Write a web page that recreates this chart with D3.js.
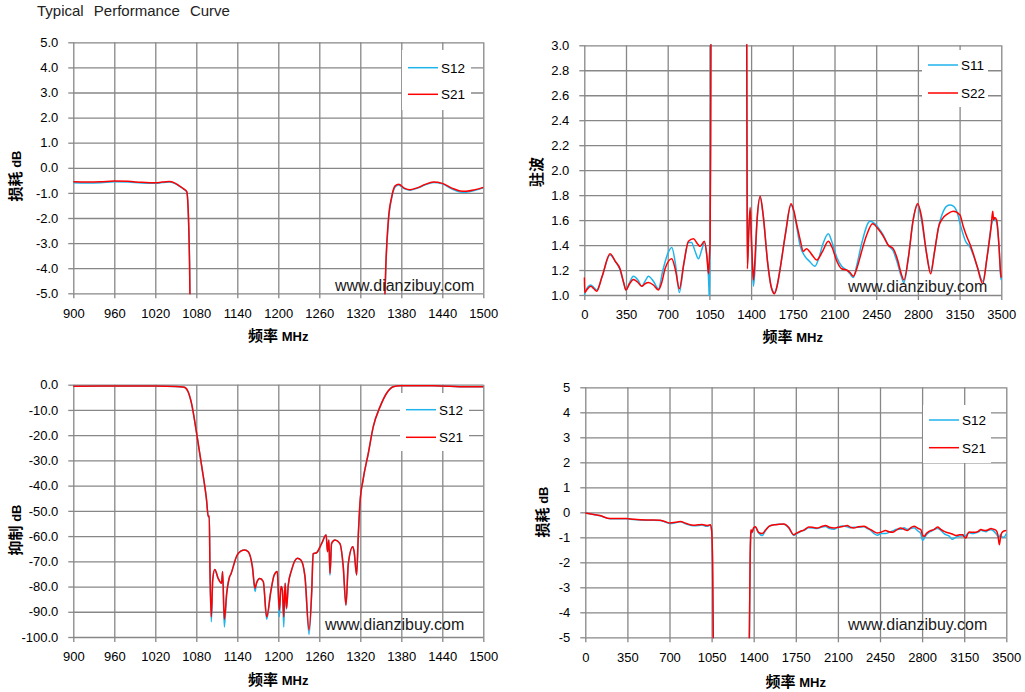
<!DOCTYPE html>
<html><head><meta charset="utf-8">
<script src="https://cdn.jsdelivr.net/npm/d3@7"></script>
<style>
body{margin:0;background:#fff;}
svg{display:block;font-family:"Liberation Sans",Arial,sans-serif;}
</style></head><body>
<svg id="c" width="1025" height="692"></svg>
<script>
// ---------- DATA ----------
// Chart 1: insertion loss, 900-1500 MHz
const c1Freq = [900,920,940,960,980,1000,1020,1030,1040,1048,1055,1062,1066,1068,1070,1072,1075,
  1200,
  1350,1354,1357,1361,1366,1371,1376,1385,1393,1405,1415,1427,1440,1455,1466,1475,1488,1500];
const c1S21 = [-0.56,-0.57,-0.56,-0.53,-0.54,-0.58,-0.6,-0.57,-0.55,-0.6,-0.72,-0.85,-0.95,-1.6,-3.6,-8,-25,
  null,
  -25,-8,-4.2,-2.1,-1.15,-0.72,-0.66,-0.82,-0.87,-0.78,-0.66,-0.57,-0.62,-0.82,-0.92,-0.93,-0.87,-0.78];
const c1S12 = [-0.6,-0.61,-0.6,-0.56,-0.57,-0.61,-0.62,-0.59,-0.57,-0.62,-0.73,-0.86,-0.96,-1.6,-3.6,-8,-25,
  null,
  -25,-8,-4.3,-2.2,-1.2,-0.76,-0.69,-0.84,-0.89,-0.8,-0.68,-0.59,-0.64,-0.86,-0.96,-0.97,-0.9,-0.8];

// Chart 2: VSWR, 0-3500 MHz
const c2FreqS22 = [0,4,20,54,80,104,150,216,260,300, 330,350,380,412,450,482,510,538,580,622,
  650,678,734,765,798,835,874,916,950,972, 1008,1030,1042,1050,1056,1060,1064,1200,1362,1366,
  1369,1380,1392,1405,1420,1430,1450,1476,1500,1540, 1570,1596,1620,1642,1690,1735,1760,1782,1810,1838,
  1865,1889,1920,1950,2000,2048,2080,2120,2160,2202, 2230,2258,2290,2328,2370,2420,2465,2510,2550,2594,
  2630,2660,2683,2720,2760,2798,2830,2870,2907,2940, 2975,3005,3050,3097,3153,3180,3209,3240,3265,3300,
  3344,3380,3415,3428,3435,3445,3461,3480,3495,3500];
const c2S22 = [1.14,1.02,1.04,1.07,1.05,1.03,1.15,1.33,1.27,1.21, 1.1,1.04,1.09,1.125,1.1,1.07,1.09,1.1,1.08,1.04,
  1.1,1.21,1.29,1.2,1.05,1.25,1.43,1.45,1.41,1.39, 1.43,1.3,1.17,1.3,1.43,2.2,3.5,null,3.5,2.0,
  1.21,1.5,1.7,1.4,1.12,1.25,1.6,1.79,1.65,1.25, 1.06,1.01,1.08,1.2,1.5,1.73,1.67,1.57,1.45,1.35,
  1.37,1.35,1.31,1.28,1.35,1.43,1.38,1.27,1.21,1.2, 1.18,1.15,1.22,1.35,1.48,1.57,1.53,1.47,1.4,1.37,
  1.28,1.17,1.12,1.3,1.6,1.73,1.63,1.35,1.17,1.35, 1.55,1.61,1.65,1.67,1.64,1.55,1.47,1.4,1.33,1.22,
  1.09,1.3,1.55,1.67,1.6,1.62,1.6,1.4,1.17,1.14];
const c2FreqS11 = [0,10,54,80,104,150,216,260,300,330, 350,380,412,450,482,510,538,580,622,660,
  700,734,765,798,835,874,900,930,958,985, 1008,1030,1042,1048,1050,1054,1060,1064,1200,1362,
  1366,1369,1380,1392,1405,1420,1432,1450,1476,1500, 1540,1570,1596,1620,1642,1690,1735,1760,1782,1810,
  1852,1890,1936,1970,2000,2048,2080,2120,2160,2202, 2230,2258,2290,2330,2398,2440,2475,2510,2550,2594,
  2630,2660,2683,2720,2760,2798,2830,2870,2907,2940, 2975,3005,3040,3069,3100,3130,3160,3200,3240,3265,
  3300,3344,3380,3415,3428,3440,3461,3480,3495,3500];
const c2S11 = [1.0,1.03,1.08,1.06,1.04,1.15,1.32,1.27,1.2,1.1, 1.04,1.1,1.15,1.12,1.07,1.11,1.15,1.11,1.05,1.2,
  1.33,1.38,1.25,1.02,1.25,1.42,1.42,1.35,1.29,1.36, 1.42,1.3,1.15,1.0,0.95,1.25,2.2,3.5,null,3.5,
  2.0,1.25,1.5,1.65,1.35,1.07,1.2,1.6,1.78,1.65, 1.25,1.06,1.02,1.08,1.2,1.5,1.72,1.66,1.55,1.4,
  1.31,1.27,1.23,1.3,1.4,1.49,1.42,1.3,1.23,1.2, 1.17,1.14,1.25,1.42,1.59,1.57,1.53,1.48,1.4,1.35,
  1.25,1.15,1.1,1.3,1.6,1.72,1.6,1.35,1.19,1.35, 1.55,1.65,1.71,1.72,1.71,1.66,1.55,1.43,1.38,1.32,
  1.22,1.11,1.3,1.55,1.6,1.61,1.58,1.4,1.15,1.12];

// Chart 3: rejection, 900-1500 MHz
const c3Freq = [900,960,1020,1050,1060,1064,1068,1073,1080.5,1088, 1095,1097.5,1099,1100,1102,1104,1107,1112,1117,1118.5,
  1121,1124.5,1128,1131,1139,1145,1151,1156,1162,1166, 1168,1173,1178,1183,1189,1194,1198.5,1201.5,1204,1206,
  1208,1210,1212,1214.6,1219.5,1228,1233,1239,1245,1249, 1251,1256,1263.5,1270,1272,1274,1275.6,1278,1283,1290,
  1295,1299,1302.5,1309,1311,1314.6,1317,1319.5,1324,1331.7, 1339,1349,1358.5,1368,1378,1427,1475,1500];
const c3S21 = [-0.6,-0.5,-0.55,-0.7,-0.9,-1.2,-2.8,-7.4,-19.3,-32.5, -45.7,-52.3,-52,-73.4,-92,-77.4,-73.2,-76.8,-78.7,-74,
  -93,-82.7,-76.8,-74.8,-68,-66,-65.5,-66.2,-72,-80.7, -78.7,-76.8,-78,-92,-82,-75.4,-74,-89.3,-80,-81.4,
  -92,-78.7,-88.6,-79.4,-73.4,-68.8,-69.5,-76,-97.2,-81.4, -67,-66.6,-62.9,-59.6,-66.2,-61.6,-74.8,-62.9,-61.6,-62.9,
  -72,-87.3,-70.8,-64.2,-66.2,-75.4,-60.2,-47,-37.8,-27.2, -16.6,-8.7,-3.4,-0.8,-0.4,-0.4,-0.8,-0.8];
const c3S12 = [-0.6,-0.5,-0.55,-0.7,-0.9,-1.2,-2.8,-7.4,-19.3,-32.5, -45.7,-52.3,-52,-73.4,-94,-77.4,-73.2,-76.8,-78.7,-74,
  -96,-82.7,-76.8,-74.8,-68,-66,-65.5,-66.2,-72,-82, -78.7,-76.8,-78,-93,-82,-75.4,-74,-92,-80,-81.4,
  -96,-78.7,-89,-79.4,-73.4,-68.8,-69.5,-76,-99,-81.4, -67,-66.6,-62.9,-59.6,-66.2,-61.6,-75.5,-62.9,-61.6,-62.9,
  -72,-87.5,-70.8,-64.2,-66.2,-75.4,-60.2,-47,-37.8,-27.2, -16.6,-8.7,-3.4,-0.8,-0.4,-0.4,-0.8,-0.8];

// Chart 4: insertion loss, 0-3500 MHz
const c4Freq = [0,60,122,205,280,344,400,455,540,622, 660,705,750,789,840,900,940,970,1011,1039,
  1050,1058,1064,1068, 1200,
  1360,1364,1370,1375,1378,1386,1400,1414,1440,1470, 1500,1530,1567,1610,1650,1690,1733,1760,1789,1820,
  1858,1890,1928,1960,1997,2030,2067,2100,2140,2178, 2205,2233,2270,2317,2345,2372,2400,2428,2460,2497,
  2525,2553,2590,2622,2650,2678,2705,2733,2765,2789, 2803,2817,2835,2858,2880,2900,2928,2955,2983,3000,
  3025,3050,3081,3110,3136,3150,3164,3180,3192,3220, 3247,3270,3289,3310,3331,3350,3372,3395,3414,3430,
  3442,3452,3461,3480,3500];
const c4S21 = [-0.03,-0.08,-0.13,-0.25,-0.25,-0.25,-0.28,-0.3,-0.31,-0.32, -0.37,-0.43,-0.4,-0.37,-0.45,-0.52,-0.5,-0.49,-0.53,-0.5,
  -0.7,-2,-5,-8, null,
  -8,-5,-2,-0.9,-0.7,-0.8,-0.62,-0.58,-0.8,-0.85, -0.7,-0.55,-0.5,-0.48,-0.47,-0.6,-0.9,-0.82,-0.76,-0.7,
  -0.59,-0.6,-0.63,-0.58,-0.53,-0.6,-0.63,-0.6,-0.57,-0.53, -0.6,-0.63,-0.58,-0.56,-0.62,-0.69,-0.77,-0.83,-0.79,-0.73,
  -0.78,-0.8,-0.7,-0.63,-0.68,-0.73,-0.62,-0.56,-0.64,-0.69, -0.9,-0.96,-0.85,-0.76,-0.72,-0.69,-0.59,-0.68,-0.76,-0.8,
  -0.83,-0.87,-0.93,-0.9,-0.9,-0.98,-1.03,-0.85,-0.79,-0.8, -0.8,-0.75,-0.69,-0.72,-0.73,-0.7,-0.65,-0.68,-0.72,-0.9,
  -1.3,-1.0,-0.83,-0.75,-0.73];
const c4S12 = [-0.03,-0.08,-0.14,-0.26,-0.26,-0.26,-0.29,-0.31,-0.32,-0.33, -0.38,-0.45,-0.42,-0.38,-0.47,-0.54,-0.53,-0.51,-0.56,-0.52,
  -0.72,-2,-5,-8, null,
  -8,-5,-2,-0.95,-0.75,-0.82,-0.63,-0.6,-0.82,-0.93, -0.72,-0.55,-0.5,-0.48,-0.48,-0.62,-0.92,-0.85,-0.77,-0.72,
  -0.62,-0.63,-0.65,-0.6,-0.57,-0.65,-0.68,-0.6,-0.55,-0.58, -0.62,-0.6,-0.6,-0.58,-0.65,-0.72,-0.85,-0.92,-0.85,-0.85,
  -0.8,-0.75,-0.68,-0.68,-0.62,-0.68,-0.65,-0.62,-0.75,-0.85, -1.12,-1.05,-0.9,-0.8,-0.75,-0.68,-0.65,-0.72,-0.85,-0.9,
  -0.95,-1.08,-1.0,-0.95,-0.95,-0.9,-0.95,-0.85,-0.82,-0.85, -0.82,-0.78,-0.72,-0.75,-0.78,-0.72,-0.7,-0.75,-0.85,-0.96,
  -0.98,-0.9,-0.98,-1.0,-0.85];

// Tick values
const xTicksNarrow = [900,960,1020,1080,1140,1200,1260,1320,1380,1440,1500];
const xTicksWide = [0,350,700,1050,1400,1750,2100,2450,2800,3150,3500];
const yTicks1 = [5,4,3,2,1,0,-1,-2,-3,-4,-5];
const yTicks2 = [3.0,2.8,2.6,2.4,2.2,2.0,1.8,1.6,1.4,1.2,1.0];
const yTicks3 = [0,-10,-20,-30,-40,-50,-60,-70,-80,-90,-100];
const yTicks4 = [5,4,3,2,1,0,-1,-2,-3,-4,-5];

// ---------- DRAW ----------
const BLUE = '#1fb4ec', RED = '#ff0000', GRID = '#878787';
const svg = d3.select('#c');
svg.append('text').attr('x', 37).attr('y', 16).attr('font-size', 15).attr('fill', '#222')
  .style('word-spacing', '6px').text('Typical Performance Curve');

let clipId = 0;
function drawChart(o) {
  const g = svg.append('g');
  const x = d3.scaleLinear().domain(o.xDomain).range([o.left, o.right]);
  const y = d3.scaleLinear().domain(o.yDomain).range([o.bottom, o.top]);
  const h = o.bottom - o.top, w = o.right - o.left;

  const gx = g.append('g').attr('transform', `translate(0,${o.bottom})`)
    .call(d3.axisBottom(x).tickValues(o.xTicks).tickSize(-h).tickSizeOuter(0).tickFormat(''));
  const gy = g.append('g').attr('transform', `translate(${o.left},0)`)
    .call(d3.axisLeft(y).tickValues(o.yTicks).tickSize(-w).tickSizeOuter(0).tickFormat(''));
  [gx, gy].forEach(a => { a.select('.domain').remove(); a.selectAll('line').attr('stroke', GRID).attr('stroke-width', 1.3); });

  const ax = g.append('g').attr('transform', `translate(0,${o.bottom})`)
    .call(d3.axisBottom(x).tickValues(o.xTicks).tickSize(5).tickSizeOuter(0).tickPadding(10).tickFormat(d => String(d)));
  const ay = g.append('g').attr('transform', `translate(${o.left},0)`)
    .call(d3.axisLeft(y).tickValues(o.yTicks).tickSize(5).tickSizeOuter(0).tickPadding(10).tickFormat(o.yFmt));
  [ax, ay].forEach(a => {
    a.select('.domain').remove();
    a.selectAll('line').attr('stroke', GRID).attr('stroke-width', 1.3);
    a.selectAll('text').attr('fill', '#000').attr('font-size', 13)
      .attr('font-family', '"Liberation Sans",Arial,sans-serif');
  });

  const id = 'clip' + (clipId++);
  svg.append('clipPath').attr('id', id).append('rect')
    .attr('x', o.left - 1).attr('y', o.top - 1).attr('width', w + 2).attr('height', h + 2);

  const line = d3.line().defined(d => d[1] != null)
    .x(d => x(d[0])).y(d => y(d[1])).curve(d3.curveMonotoneX);
  const lg = g.append('g').attr('clip-path', `url(#${id})`);
  o.series.forEach(s => {
    const pts = s.freq.map((f, i) => [f, s.values[i]]);
    lg.append('path').datum(pts).attr('d', line).attr('fill', 'none')
      .attr('stroke', s.color).attr('stroke-width', 1.5).attr('stroke-linejoin', 'round');
  });

  const L = o.legend;
  g.append('rect').attr('x', L.x).attr('y', L.y).attr('width', L.w).attr('height', L.h).attr('fill', '#fff');
  o.legendOrder.forEach((s, i) => {
    const ly = L.y + L.first + i * L.gap;
    g.append('line').attr('x1', L.x + 6).attr('x2', L.x + 36).attr('y1', ly).attr('y2', ly)
      .attr('stroke', s.color).attr('stroke-width', 1.5);
    g.append('text').attr('x', L.x + 39).attr('y', ly).attr('dy', '0.36em')
      .attr('font-size', 13.5).attr('fill', '#000').text(s.name);
  });

  g.append('text').attr('x', o.wm[0]).attr('y', o.wm[1]).attr('font-size', 16).attr('fill', '#1a1a1a')
    .text('www.dianzibuy.com');

  const xt = g.append('text').attr('x', (o.left + o.right) / 2).attr('y', o.xTitleY)
    .attr('text-anchor', 'middle').attr('font-weight', 'bold').attr('fill', '#000');
  xt.append('tspan').attr('font-family', '"Noto Sans CJK SC",sans-serif').attr('font-size', 15).text('频率');
  xt.append('tspan').attr('font-size', 13).text(' MHz');
  const yt = g.append('text').attr('transform', `translate(${o.yTitle[0]},${o.yTitle[1]}) rotate(-90)`)
    .attr('text-anchor', 'middle').attr('font-weight', 'bold').attr('fill', '#000');
  yt.append('tspan').attr('font-family', '"Noto Sans CJK SC",sans-serif').attr('font-size', 15).text(o.yTitleCn);
  if (o.yTitleEn) yt.append('tspan').attr('font-size', 13).text(' ' + o.yTitleEn);
}

const f1 = d => d.toFixed(1);
const f0 = d => d.toFixed(0);

const s1a = {name: 'S12', color: BLUE, freq: c1Freq, values: c1S12};
const s1b = {name: 'S21', color: RED, freq: c1Freq, values: c1S21};
drawChart({left: 73.3, right: 483.3, top: 42.3, bottom: 293.3,
  xDomain: [900, 1500], yDomain: [-5, 5], xTicks: xTicksNarrow, yTicks: yTicks1, yFmt: f1,
  series: [s1a, s1b], legendOrder: [s1a, s1b],
  legend: {x: 402, y: 50, w: 69, h: 60, first: 17.7, gap: 26.6},
  wm: [335, 291], xTitleY: 341, yTitle: [21, 176], yTitleCn: '损耗', yTitleEn: 'dB'});

const s2a = {name: 'S11', color: BLUE, freq: c2FreqS11, values: c2S11};
const s2b = {name: 'S22', color: RED, freq: c2FreqS22, values: c2S22};
drawChart({left: 584.3, right: 1001.3, top: 45.3, bottom: 295,
  xDomain: [0, 3500], yDomain: [1, 3], xTicks: xTicksWide, yTicks: yTicks2, yFmt: f1,
  series: [s2a, s2b], legendOrder: [s2a, s2b],
  legend: {x: 922, y: 50, w: 66, h: 57, first: 15, gap: 28},
  wm: [848, 292], xTitleY: 342, yTitle: [542, 172], yTitleCn: '驻波', yTitleEn: ''});

const s3a = {name: 'S12', color: BLUE, freq: c3Freq, values: c3S12};
const s3b = {name: 'S21', color: RED, freq: c3Freq, values: c3S21};
drawChart({left: 73.3, right: 483.3, top: 384.7, bottom: 637,
  xDomain: [900, 1500], yDomain: [-100, 0], xTicks: xTicksNarrow, yTicks: yTicks3, yFmt: f1,
  series: [s3a, s3b], legendOrder: [s3a, s3b],
  legend: {x: 400, y: 393, w: 69, h: 58, first: 16.7, gap: 27.6},
  wm: [325, 630], xTitleY: 685, yTitle: [21, 530], yTitleCn: '抑制', yTitleEn: 'dB'});

const s4a = {name: 'S12', color: BLUE, freq: c4Freq, values: c4S12};
const s4b = {name: 'S21', color: RED, freq: c4Freq, values: c4S21};
drawChart({left: 585.3, right: 1006.3, top: 387.3, bottom: 637.3,
  xDomain: [0, 3500], yDomain: [-5, 5], xTicks: xTicksWide, yTicks: yTicks4, yFmt: f0,
  series: [s4a, s4b], legendOrder: [s4a, s4b],
  legend: {x: 923, y: 405, w: 68, h: 58, first: 15, gap: 27.7},
  wm: [848, 630], xTitleY: 687, yTitle: [548, 512], yTitleCn: '损耗', yTitleEn: 'dB'});
</script>
</body></html>
